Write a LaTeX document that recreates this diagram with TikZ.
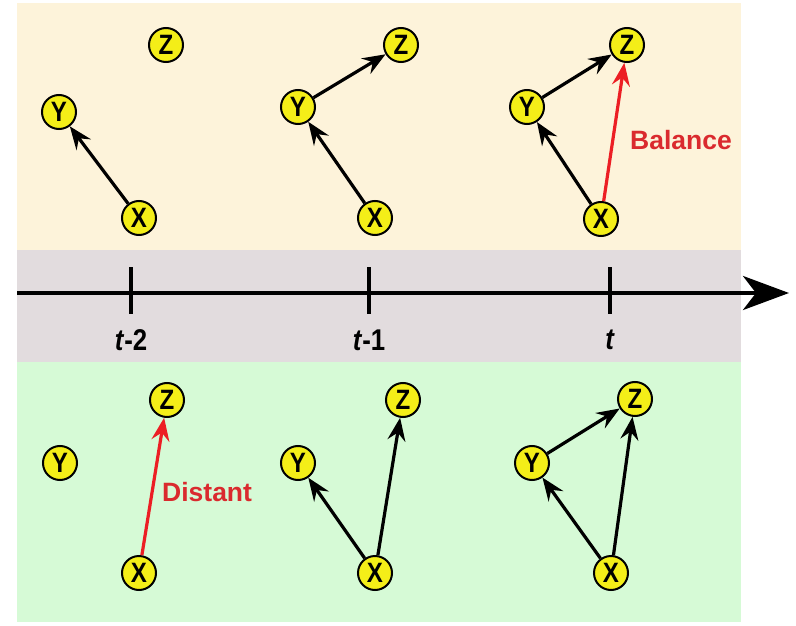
\documentclass[tikz,border=0pt]{standalone}
\usepackage{fontspec}
\setmainfont{Liberation Sans}
\newfontfamily\narrowsans[FakeStretch=0.86]{Liberation Sans}
\usetikzlibrary{arrows.meta}
\definecolor{bandtop}{RGB}{253,243,218}
\definecolor{bandmid}{RGB}{226,220,222}
\definecolor{bandlow}{RGB}{214,250,214}
\definecolor{nodefill}{RGB}{244,238,24}
\definecolor{linkred}{RGB}{236,30,36}
\definecolor{labred}{RGB}{218,42,46}
\tikzset{
  vtx/.style={circle, draw=black, line width=2pt, fill=nodefill, minimum size=34pt,
    inner sep=0pt, font=\narrowsans\fontsize{28}{28}\selectfont\bfseries},
  edge/.style={line width=3.2pt, -{Stealth[length=23pt,width=18pt,inset=8pt]}},
  redge/.style={edge, draw=linkred},
  tick/.style={line width=4pt},
  ticklabel/.style={font=\narrowsans\fontsize{30}{30}\selectfont\bfseries},
  redlabel/.style={text=labred, font=\fontsize{26.5}{27}\selectfont\bfseries, anchor=west, inner sep=0pt}
}
\begin{document}
\begin{tikzpicture}[x=1pt,y=-1pt]
\useasboundingbox (0,0) rectangle (796,626);
% background bands
\fill[bandtop] (17,3) rectangle (741,250);
\fill[bandmid] (17,250) rectangle (741,362);
\fill[bandlow] (17,362) rectangle (741,622);

% time axis
\coordinate (axs) at (17,293);
\coordinate (axe) at (789,293);
\draw[line width=4pt, -{Stealth[length=46pt,width=34pt,inset=13pt]}] (axs) -- (axe);
\foreach \n/\xx/\lab in {a/131/{\textit{t}-2}, b/369/{\textit{t}-1}, c/610/{\textit{t}}} {
  \coordinate (tk\n t) at (\xx,267);
  \coordinate (tk\n b) at (\xx,314);
  \draw[tick] (tk\n t) -- (tk\n b);
  \node[ticklabel] (tl\n) at (\xx,340) {\lab};
}

% upper row
\node[vtx] (uz1) at (166,45) {Z};
\node[vtx] (uy1) at (59,112) {Y};
\node[vtx] (ux1) at (139,218) {X};
\draw[edge] (ux1) -- (uy1);

\node[vtx] (uz2) at (401,45) {Z};
\node[vtx] (uy2) at (298,107) {Y};
\node[vtx] (ux2) at (375,218) {X};
\draw[edge] (ux2) -- (uy2);
\draw[edge] (uy2) -- (uz2);

\node[vtx] (uz3) at (627,45) {Z};
\node[vtx] (uy3) at (527,107) {Y};
\node[vtx] (ux3) at (601,219) {X};
\draw[edge] (ux3) -- (uy3);
\draw[edge] (uy3) -- (uz3);
\draw[redge] (ux3) -- (uz3);
\node[redlabel] (bal) at (630,140) {Balance};

% lower row
\node[vtx] (lz1) at (167,400) {Z};
\node[vtx] (ly1) at (60,463) {Y};
\node[vtx] (lx1) at (139,573) {X};
\draw[redge] (lx1) -- (lz1);
\node[redlabel] (dis) at (162,492) {Distant};

\node[vtx] (lz2) at (403,400) {Z};
\node[vtx] (ly2) at (298,463) {Y};
\node[vtx] (lx2) at (375,573) {X};
\draw[edge] (lx2) -- (ly2);
\draw[edge] (lx2) -- (lz2);

\node[vtx] (lz3) at (635,399) {Z};
\node[vtx] (ly3) at (532,463) {Y};
\node[vtx] (lx3) at (611,573) {X};
\draw[edge] (lx3) -- (ly3);
\draw[edge] (lx3) -- (lz3);
\draw[edge] (ly3) -- (lz3);
\end{tikzpicture}
\end{document}
